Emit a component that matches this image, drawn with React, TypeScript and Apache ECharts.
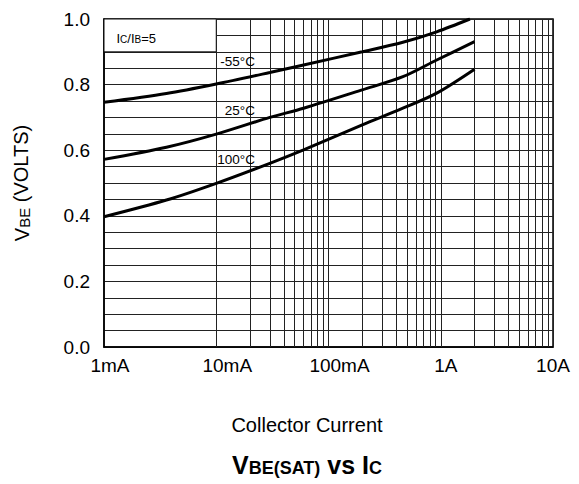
import React, { useEffect, useRef } from "react";
import * as echarts from "echarts";

// ---- data ----
const xTickValues = [0.001, 0.01, 0.1, 1, 10];
const xTickLabels = ["1mA", "10mA", "100mA", "1A", "10A"];
const xLabelShift = [6, 11, 11, 5, 0];
const decadeStarts = [0.001, 0.01, 0.1, 1];
const gridMultipliers = [1, 2, 3, 4, 5, 6, 7, 8, 9];

const currentM55 = [0.001, 0.0036, 0.01, 0.03, 0.06, 0.2, 0.46, 0.92, 1.82];
const vbeM55 = [0.746, 0.773, 0.802, 0.837, 0.86, 0.9, 0.929, 0.961, 1.0];
const current25 = [0.001, 0.0036, 0.01, 0.03, 0.06, 0.2, 0.46, 0.92, 2.0];
const vbe25 = [0.572, 0.609, 0.649, 0.7, 0.728, 0.784, 0.824, 0.875, 0.931];
const current100 = [0.001, 0.0036, 0.01, 0.03, 0.06, 0.2, 0.46, 0.92, 2.0];
const vbe100 = [0.397, 0.448, 0.499, 0.56, 0.601, 0.677, 0.728, 0.774, 0.847];

const tempLabels = ["-55°C", "25°C", "100°C"];
const tempLabelCurrent = 0.0221;
const tempLabelVolts = [0.87, 0.721, 0.573];

const FONT = "Liberation Sans, Arial, Helvetica, sans-serif";

export default function App() {
  const ref = useRef<HTMLDivElement>(null);
  useEffect(() => {
    const chart = echarts.init(ref.current!, null, { renderer: "svg" });
    const gridXs: number[] = [];
    decadeStarts.forEach((d) => gridMultipliers.forEach((m) => gridXs.push(d * m)));
    gridXs.push(10);

    const rich: any = {};
    xLabelShift.forEach((s, i) => {
      rich["o" + i] = { fontSize: 19, fontFamily: FONT, color: "#000", padding: [0, 0, 0, s * 2] };
    });

    const curves = [
      { x: currentM55, y: vbeM55 },
      { x: current25, y: vbe25 },
      { x: current100, y: vbe100 },
    ];

    const option: any = {
      animation: false,
      backgroundColor: "#fff",
      grid: { left: 104, right: 26, top: 19, bottom: 137, show: true, borderColor: "#000", borderWidth: 1.5 },
      title: [
        {
          text: "Collector Current",
          left: 307,
          top: 415,
          padding: 0,
          textAlign: "center",
          textStyle: { fontSize: 20, fontWeight: "normal", fontFamily: FONT, color: "#000" },
        },
        {
          text: "{b|V}{s|BE(SAT)}{b| vs I}{s|C}",
          left: 307,
          top: 452,
          padding: 0,
          textAlign: "center",
          textStyle: {
            fontFamily: FONT,
            rich: {
              b: { fontSize: 25, fontWeight: "bold", fontFamily: FONT, color: "#000", lineHeight: 25, verticalAlign: "bottom" },
              s: { fontSize: 18, fontWeight: "bold", fontFamily: FONT, color: "#000", lineHeight: 25, verticalAlign: "bottom" },
            },
          },
        },
      ],
      xAxis: {
        type: "log",
        logBase: 10,
        min: 0.001,
        max: 10,
        axisLine: { show: true, lineStyle: { color: "#000", width: 1.5 } },
        axisTick: { show: false },
        splitLine: { show: false },
        axisLabel: {
          margin: 9,
          fontSize: 19,
          fontFamily: FONT,
          color: "#000",
          formatter: (v: number) => {
            const i = Math.round(Math.log10(v)) + 3;
            return "{o" + i + "|" + (xTickLabels[i] ?? "") + "}";
          },
          rich,
        },
      },
      yAxis: {
        type: "value",
        min: 0,
        max: 1,
        interval: 0.2,
        name: "{v|V}{s|BE} (VOLTS)",
        nameLocation: "middle",
        nameRotate: 90,
        nameGap: 72,
        nameTextStyle: {
          fontSize: 20,
          fontFamily: FONT,
          color: "#000",
          rich: {
            v: { fontSize: 20, fontFamily: FONT, color: "#000", lineHeight: 22, verticalAlign: "bottom" },
            s: { fontSize: 15, fontFamily: FONT, color: "#000", lineHeight: 22, verticalAlign: "bottom" },
          },
        },
        axisLine: { show: true, lineStyle: { color: "#000", width: 1.5 } },
        axisTick: { show: false },
        axisLabel: {
          margin: 14,
          fontSize: 19,
          fontFamily: FONT,
          color: "#000",
          formatter: (v: number) => v.toFixed(1),
        },
        splitLine: { show: true, lineStyle: { color: "#222", width: 1 } },
        minorTick: { show: false, splitNumber: 4 },
        minorSplitLine: { show: true, lineStyle: { color: "#222", width: 1 } },
      },
      series: [
        {
          type: "line",
          data: [],
          silent: true,
          markLine: {
            z: 1,
            silent: true,
            symbol: ["none", "none"],
            label: { show: false },
            lineStyle: { color: "#222", width: 1, type: "solid" },
            data: gridXs.map((v) => ({ xAxis: v })),
          },
          markArea: {
            z: 2,
            silent: true,
            itemStyle: { color: "#fff", borderColor: "#111", borderWidth: 1 },
            label: {
              show: true,
              position: [13, 19],
              verticalAlign: "middle",
              formatter: "{b|I}{s|C}{b|/I}{s|B}{b|=5}",
              rich: {
                b: { fontSize: 13, fontFamily: FONT, color: "#000", lineHeight: 14, verticalAlign: "bottom" },
                s: { fontSize: 10, fontFamily: FONT, color: "#000", lineHeight: 14, verticalAlign: "bottom" },
              },
            },
            data: [[{ xAxis: 0.001, yAxis: 0.9 }, { xAxis: 0.01, yAxis: 1.0 }]],
          },
        },
        ...curves.map((c, k) => ({
          type: "line",
          z: 3,
          smooth: 0.3,
          symbol: "none",
          silent: true,
          lineStyle: { color: "#000", width: 3 },
          data: c.x.map((x, i) => [x, c.y[i]]),
          markPoint: {
            z: 4,
            symbol: "circle",
            symbolSize: 0,
            silent: true,
            label: {
              show: true,
              position: "left",
              distance: 0,
              formatter: tempLabels[k],
              fontSize: 13.5,
              fontFamily: FONT,
              color: "#000",
            },
            data: [{ coord: [tempLabelCurrent, tempLabelVolts[k]] }],
          },
        })),
      ],
    };
    chart.setOption(option);
    return () => chart.dispose();
  }, []);
  return (
    <div
      ref={ref}
      style={{ position: "absolute", left: 0, top: 0, width: 579, height: 484, background: "#fff" }}
    />
  );
}
